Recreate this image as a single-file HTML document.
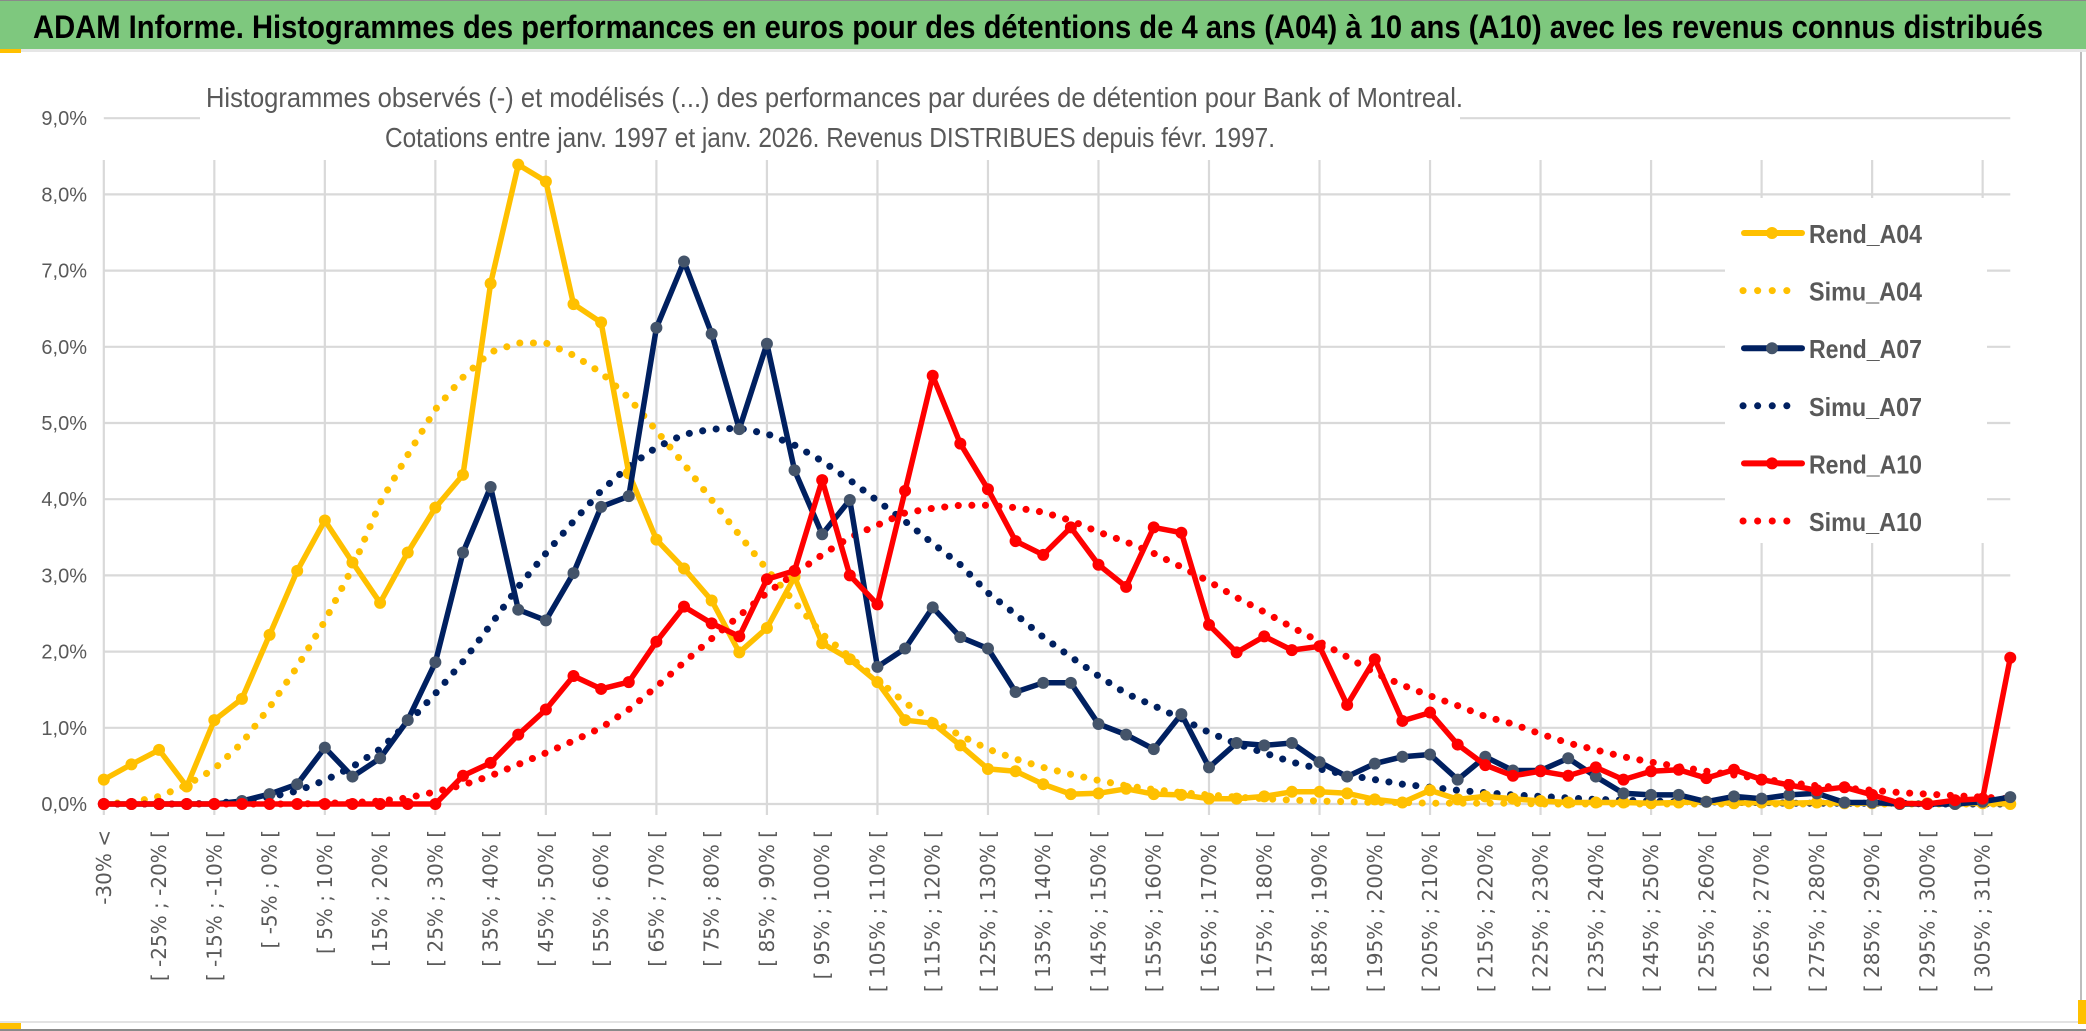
<!DOCTYPE html>
<html><head><meta charset="utf-8"><style>
html,body{margin:0;padding:0;background:#fff;}
svg{display:block;}
</style></head><body>
<svg id="chart" width="2086" height="1031" viewBox="0 0 2086 1031" xmlns="http://www.w3.org/2000/svg">
<rect x="0" y="0" width="2086" height="1031" fill="#ffffff"/>
<rect x="0" y="1" width="2086" height="48" fill="#7ec87e"/>
<rect x="0" y="0" width="2086" height="1" fill="#8a8a8a"/>
<rect x="0" y="49" width="2086" height="3" fill="#e6e6e6"/>
<rect x="0" y="49" width="21" height="4" fill="#ffc000"/>
<text x="33" y="38" font-family="Liberation Sans, sans-serif" font-weight="bold" font-size="32" fill="#000" textLength="2010" lengthAdjust="spacingAndGlyphs">ADAM Informe. Histogrammes des performances en euros pour des détentions de 4 ans (A04) à 10 ans (A10) avec les revenus connus distribués</text>
<g id="grid"></g>
<rect x="200" y="58" width="1260" height="102" fill="#fff"/>
<text x="206" y="107" font-family="Liberation Sans, sans-serif" font-size="28" fill="#595959" textLength="1257" lengthAdjust="spacingAndGlyphs">Histogrammes observés (-) et modélisés (...) des performances par durées de détention pour Bank of Montreal.</text>
<text x="385" y="147" font-family="Liberation Sans, sans-serif" font-size="28" fill="#595959" textLength="890" lengthAdjust="spacingAndGlyphs">Cotations entre janv. 1997 et janv. 2026. Revenus DISTRIBUES depuis févr. 1997.</text>
<g id="yaxis"></g>
<g id="xaxis"></g>
<g id="series"></g>
<g id="legend"></g>
<rect x="0" y="1021" width="2086" height="2" fill="#e3e3e3"/>
<rect x="0" y="1029" width="2086" height="2" fill="#8a8a8a"/>
<rect x="0" y="1023" width="21" height="6" fill="#ffc000"/>
<rect x="2080" y="52" width="2" height="972" fill="#bdbdbd"/>
<rect x="2078" y="1000" width="8" height="24" fill="#ffc000"/>
</svg>
<script>
const yTicks = [0,1,2,3,4,5,6,7,8,9];
const categoryCount = 70;
const rendA04 = [0.32,0.52,0.71,0.23,1.10,1.38,2.22,3.06,3.72,3.17,2.64,3.30,3.89,4.32,6.83,8.39,8.17,6.56,6.32,4.34,3.47,3.09,2.67,1.99,2.31,2.98,2.11,1.90,1.60,1.10,1.06,0.77,0.46,0.43,0.26,0.13,0.14,0.20,0.13,0.12,0.07,0.07,0.10,0.16,0.16,0.14,0.06,0.02,0.18,0.06,0.10,0.07,0.04,0.02,0.02,0.02,0.01,0.02,0.03,0.01,0.02,0.01,0.02,0.01,0.01,0.00,0.01,0.00,0.01,0.00];
const simuA04 = [0.005,0.02,0.10,0.25,0.46,0.80,1.27,1.80,2.40,3.10,3.95,4.58,5.18,5.60,5.93,6.05,6.05,5.89,5.66,5.33,4.90,4.46,3.99,3.53,3.08,2.65,2.23,1.93,1.63,1.33,1.09,0.90,0.72,0.59,0.48,0.39,0.31,0.24,0.19,0.15,0.12,0.09,0.07,0.05,0.04,0.03,0.02,0.02,0.01,0.01,0.01,0.01,0,0,0,0,0,0,0,0,0,0,0,0,0,0,0,0,0,0];
const rendA07 = [0,0,0,0,0,0.04,0.13,0.26,0.74,0.36,0.60,1.10,1.86,3.30,4.16,2.55,2.41,3.03,3.90,4.04,6.25,7.12,6.17,4.92,6.04,4.38,3.54,3.99,1.80,2.04,2.58,2.19,2.04,1.47,1.59,1.59,1.05,0.91,0.72,1.18,0.48,0.80,0.77,0.80,0.55,0.36,0.53,0.62,0.65,0.32,0.62,0.44,0.44,0.60,0.36,0.14,0.12,0.12,0.03,0.10,0.07,0.12,0.14,0.02,0.02,0,0,0,0.03,0.09];
const simuA07 = [0,0,0,0,0.01,0.04,0.09,0.17,0.31,0.49,0.72,1.06,1.45,1.87,2.35,2.85,3.29,3.71,4.11,4.43,4.68,4.85,4.92,4.93,4.86,4.71,4.50,4.25,3.98,3.71,3.42,3.14,2.77,2.49,2.19,1.93,1.68,1.45,1.29,1.12,0.94,0.79,0.67,0.55,0.46,0.38,0.32,0.26,0.22,0.18,0.15,0.12,0.10,0.08,0.06,0.05,0.04,0.03,0.03,0.02,0.02,0.01,0.01,0.01,0.01,0.01,0,0,0,0];
const rendA10 = [0,0,0,0,0,0,0,0,0,0,0,0,0,0.37,0.54,0.91,1.24,1.68,1.51,1.60,2.13,2.59,2.37,2.20,2.95,3.06,4.25,3.00,2.62,4.11,5.62,4.73,4.13,3.45,3.27,3.63,3.14,2.85,3.63,3.56,2.35,1.99,2.20,2.02,2.07,1.30,1.90,1.09,1.20,0.78,0.51,0.37,0.43,0.37,0.48,0.32,0.43,0.45,0.34,0.45,0.32,0.25,0.18,0.22,0.12,0.01,0,0.05,0.07,1.92];
const simuA10 = [0,0,0,0,0,0,0,0,0.01,0.02,0.04,0.08,0.16,0.25,0.37,0.52,0.67,0.83,1.00,1.24,1.54,1.86,2.17,2.47,2.77,3.02,3.27,3.50,3.66,3.82,3.88,3.92,3.92,3.89,3.83,3.72,3.57,3.44,3.29,3.11,2.92,2.71,2.52,2.32,2.13,1.93,1.72,1.56,1.42,1.29,1.15,1.05,0.92,0.80,0.71,0.62,0.55,0.49,0.43,0.38,0.33,0.28,0.24,0.21,0.18,0.15,0.13,0.11,0.09,0.07];
const seriesNames = ["Rend_A04","Simu_A04","Rend_A07","Simu_A07","Rend_A10","Simu_A10"];

const NS = "http://www.w3.org/2000/svg";
const X0 = 103.8, XSTEP = 27.63, Y0 = 804, YSTEP = 76.2;
function xPos(i){ return X0 + i * XSTEP; }
function yPos(v){ return Y0 - v * YSTEP; }
function catLabel(i){
  if (i === 0) return "-30% <";
  const lo = -30 + 5 * (i - 1);
  return "[ " + lo + "% ; " + (lo + 5) + "% [";
}
function mk(tag, attrs, parent){
  const e = document.createElementNS(NS, tag);
  for (const k in attrs) e.setAttribute(k, attrs[k]);
  parent.appendChild(e);
  return e;
}
const grid = document.getElementById('grid');
yTicks.forEach(t => {
  const l = mk('line', {x1: xPos(0), x2: xPos(categoryCount - 1), y1: yPos(t), y2: yPos(t), stroke: '#d9d9d9', 'stroke-width': 2.2}, grid);
  
  
});
for (let i = 0; i < categoryCount; i += 4) {
  const l = mk('line', {x1: xPos(i), x2: xPos(i), y1: 160, y2: 815, stroke: '#d9d9d9', 'stroke-width': 2.2}, grid);
  
  
}
const yaxis = document.getElementById('yaxis');
yTicks.forEach(t => {
  const tx = mk('text', {x: 87, y: yPos(t) + 7, 'text-anchor': 'end', 'font-family': 'Liberation Sans, sans-serif', 'font-size': 20, fill: '#595959'}, yaxis);
  tx.textContent = t.toFixed(1).replace('.', ',') + '%';
  
  
});
const xaxis = document.getElementById('xaxis');
for (let i = 0; i < categoryCount; i += 2) {
  const x = xPos(i) + 7, y = 830;
  const tx = mk('text', {x: x, y: y, transform: 'rotate(-90 ' + x + ' ' + y + ')', 'text-anchor': 'end', 'font-family': 'DejaVu Sans, sans-serif', 'font-size': 20, fill: '#595959'}, xaxis);
  tx.textContent = catLabel(i);
  
  
}
const series = document.getElementById('series');
function pts(arr){ return arr.map((v, i) => xPos(i).toFixed(1) + ',' + yPos(v).toFixed(1)).join(' '); }
function drawDotted(arr, color, name){
  const p = mk('polyline', {points: pts(arr), fill: 'none', stroke: color, 'stroke-width': 7, 'stroke-linecap': 'round', 'stroke-linejoin': 'round', 'stroke-dasharray': '0.1 13.5'}, series);
  
  
}
function drawSolid(arr, color, markColor, name){
  const g = mk('g', {}, series);
  
  
  const p = mk('polyline', {points: pts(arr), fill: 'none', stroke: color, 'stroke-width': 5.5, 'stroke-linejoin': 'round'}, g);
  
  
  arr.forEach((v, i) => {
    const c = mk('circle', {cx: xPos(i), cy: yPos(v), r: 6, fill: markColor}, g);
    
    
  });
}
drawDotted(simuA04, '#ffc000', 'simu-a04-series');
drawDotted(simuA07, '#002060', 'simu-a07-series');
drawDotted(simuA10, '#ff0000', 'simu-a10-series');
drawSolid(rendA04, '#ffc000', '#ffc000', 'rend-a04-series');
drawSolid(rendA07, '#002060', '#44546a', 'rend-a07-series');
drawSolid(rendA10, '#ff0000', '#ff0000', 'rend-a10-series');

const legend = document.getElementById('legend');
mk('rect', {x: 1725, y: 198, width: 262, height: 345, fill: '#fff'}, legend);
const legColors = ['#ffc000','#ffc000','#002060','#002060','#ff0000','#ff0000'];
const legMark = ['#ffc000',null,'#44546a',null,'#ff0000',null];
seriesNames.forEach((n, k) => {
  const y = 233 + k * 57.6;
  const g = mk('g', {}, legend);
  
  
  if (k % 2 === 0) {
    mk('line', {x1: 1744, x2: 1802, y1: y, y2: y, stroke: legColors[k], 'stroke-width': 6, 'stroke-linecap': 'round'}, g);
    mk('circle', {cx: 1772, cy: y, r: 6, fill: legMark[k]}, g);
  } else {
    mk('line', {x1: 1743, x2: 1800, y1: y, y2: y, stroke: legColors[k], 'stroke-width': 7, 'stroke-linecap': 'round', 'stroke-dasharray': '0.1 14.5'}, g);
  }
  const t = mk('text', {x: 1809, y: y + 10, 'font-family': 'Liberation Sans, sans-serif', 'font-weight': 'bold', 'font-size': 26, fill: '#595959', textLength: 113, lengthAdjust: 'spacingAndGlyphs'}, g);
  t.textContent = n;
});
</script>
</body></html>
